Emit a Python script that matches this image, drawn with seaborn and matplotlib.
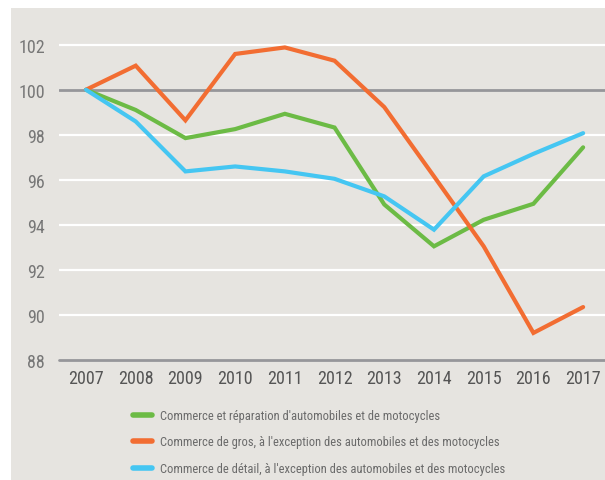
import matplotlib
matplotlib.use("Agg")
import matplotlib.pyplot as plt
import seaborn as sns
import pandas as pd
from matplotlib.patches import Rectangle
from matplotlib.lines import Line2D

years = [2007, 2008, 2009, 2010, 2011, 2012, 2013, 2014, 2015, 2016, 2017]
reparation = [100, 99.1, 97.85, 98.25, 98.93, 98.32, 94.9, 93.04, 94.22, 94.93, 97.44]
gros = [100, 101.07, 98.64, 101.59, 101.88, 101.29, 99.23, 96.15, 93.04, 89.19, 90.34]
detail = [100, 98.59, 96.37, 96.59, 96.37, 96.04, 95.26, 93.78, 96.15, 97.15, 98.07]
series_names = [
    "Commerce et réparation d'automobiles et de motocycles",
    "Commerce de gros, à l'exception des automobiles et des motocycles",
    "Commerce de détail, à l'exception des automobiles et des motocycles",
]
y_ticks = [88, 90, 92, 94, 96, 98, 100, 102]

colors = ["#6cbb45", "#f26d32", "#45c6f2"]
bg = "#e6e4e0"
txt = "#6a6a6a"

df = pd.concat([
    pd.DataFrame({"year": years, "value": vals, "series": name})
    for name, vals in zip(series_names, [reparation, gros, detail])
])

sns.set_theme(style="white")
plt.rcParams["font.family"] = ["Roboto Condensed", "Lato", "DejaVu Sans"]

fig = plt.figure(figsize=(6.05, 4.81), dpi=100, facecolor="white")
fig.patches.append(Rectangle((11 / 605, 0), 1 - 11 / 605, 1 - 9 / 481,
                             transform=fig.transFigure, facecolor=bg,
                             edgecolor="none", zorder=-10))
ax = fig.add_axes([59 / 605, 1 - 360.7 / 481, 1 - 59 / 605, (360.7 - 12) / 481])
ax.patch.set_alpha(0)

sns.lineplot(data=df, x="year", y="value", hue="series", palette=colors,
             hue_order=series_names, linewidth=3.0, ax=ax, legend=False,
             zorder=3)
for ln in ax.get_lines():
    ln.set_solid_capstyle("round")
    ln.set_solid_joinstyle("miter")

ax.set_xlim(2006.457, 2017.44)
ax.set_ylim(88, 103.5)
ax.set_yticks(y_ticks)
ax.set_xticks(years)
for t in y_ticks:
    if t == 100:
        ax.axhline(t, color="#96969a", lw=2.0, zorder=2)
    elif t == 88:
        ax.axhline(t, color="#96969a", lw=2.0, zorder=2, clip_on=False)
    else:
        ax.axhline(t, color="white", lw=1.6, zorder=1)

for s in ax.spines.values():
    s.set_visible(False)
ax.tick_params(axis="both", length=0, labelsize=13)
ax.tick_params(axis="y", pad=10, colors="#777777")
ax.tick_params(axis="x", pad=7, colors="#555555")
ax.set_xlabel("")
ax.set_ylabel("")

handles = [Line2D([0], [0], color=c, lw=4) for c in colors]
leg = fig.legend(handles, series_names, loc="upper left",
                 bbox_to_anchor=(128 / 605, 1 - 405 / 481),
                 frameon=False, handlelength=1.5, handletextpad=0.7,
                 labelspacing=1.08, fontsize=9, labelcolor=txt,
                 borderaxespad=0)

fig.savefig("out.png", dpi=100, facecolor="white")
